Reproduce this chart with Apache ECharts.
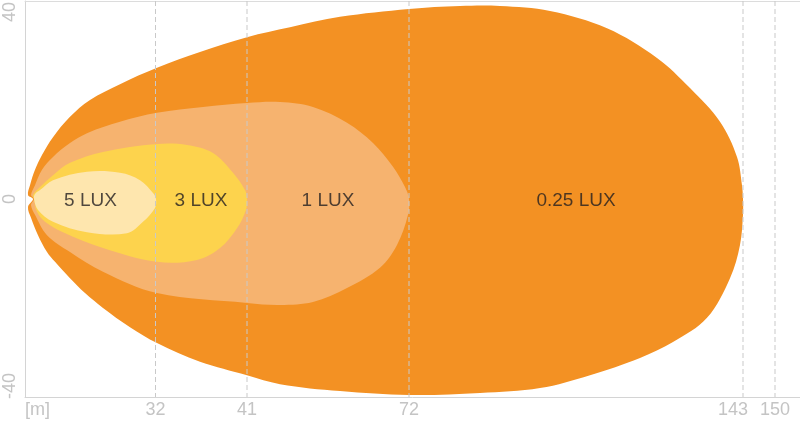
<!DOCTYPE html>
<html><head><meta charset="utf-8">
<script src="https://cdn.jsdelivr.net/npm/echarts@6/dist/echarts.min.js"></script>
<style>html,body{margin:0;padding:0;background:#fff}#c{width:800px;height:426px}</style>
</head><body><div id="c"></div>
<script>
// Tick labels of the distance axis and their places on the schematic axis
const tickLabels = ['[m]', '32', '41', '72', '143', '150'];
const tickPos = [0, 26.1, 44.4, 76.8, 143.6, 150];
const yTicks = [-40, 0, 40];

// Zone names and where they are written
const luxLabels = ['5 LUX', '3 LUX', '1 LUX', '0.25 LUX'];
const luxLabelX = [13.1, 35.2, 60.6, 110.2];

// Zone outlines [distance, lateral width]
const lux025 = [[0.6,0.8],[1.0,2.8],[2.0,5.9],[3.4,8.9],[5.6,12.5],[9.0,16.6],[13.0,20.0],[19.0,23.2],[26.4,26.5],[35.0,29.7],[44.4,32.7],[53.0,34.7],[63.0,36.8],[76.8,38.4],[87.0,39.0],[95.0,39.0],[105.0,38.0],[116.4,34.5],[126.4,28.5],[133.0,22.4],[139.0,15.6],[142.4,8.5],[143.4,2.8],[143.6,0],
  [143.6,-3.2],[143.0,-9.3],[141.0,-16.0],[136.4,-24.0],[129.6,-28.9],[123.0,-32.1],[113.0,-35.6],[103.0,-38.2],[91.0,-39.2],[76.8,-39.6],[63.0,-38.8],[51.0,-37.4],[44.4,-35.6],[35.0,-32.9],[26.4,-29.1],[21.0,-25.9],[15.6,-22.0],[12.0,-19.0],[9.0,-16.0],[6.0,-12.7],[4.4,-10.7],[2.6,-7.3],[1.2,-3.8],[0.6,-1.6],[1.6,0]];
const lux1 = [[1.2,0.8],[2.0,2.8],[3.4,5.9],[5.6,8.5],[9.0,11.3],[12.4,13.3],[19.0,15.6],[26.4,17.4],[35.6,18.6],[44.4,19.4],[51.0,19.6],[57.6,18.6],[64.4,15.4],[69.6,11.3],[73.6,6.5],[76.0,2.4],[76.8,0],
  [76.6,-3.2],[74.4,-9.3],[71.0,-13.9],[64.4,-18.0],[57.6,-20.8],[51.0,-21.4],[44.4,-21.0],[26.4,-19.0],[15.6,-14.7],[9.0,-10.7],[4.4,-7.3],[2.0,-3.2],[1.2,-1.2],[1.8,0]];
const lux3 = [[1.6,0.8],[3.0,2.4],[5.6,4.8],[9.0,7.3],[15.6,9.5],[26.4,11.1],[32.4,10.9],[37.6,9.3],[41.6,5.3],[44.0,1.8],[44.4,0],
  [44.2,-2.2],[42.4,-5.9],[39.0,-9.9],[34.4,-12.3],[26.4,-12.7],[15.6,-9.9],[7.6,-6.7],[4.0,-4.6],[2.4,-2.6],[1.8,0]];
const lux5 = [[2.0,1.0],[3.0,1.8],[5.6,3.8],[12.4,5.5],[19.0,5.3],[23.0,3.8],[25.6,1.2],[26.2,0],
  [26.0,-1.8],[23.6,-4.6],[20.4,-6.9],[12.4,-6.7],[5.6,-4.6],[2.6,-2.2],[1.8,0]];

const zones = [
  {name: '0.25 LUX', data: lux025, color: '#F39123'},
  {name: '1 LUX', data: lux1, color: '#F6B36F'},
  {name: '3 LUX', data: lux3, color: '#FDD34D'},
  {name: '5 LUX', data: lux5, color: '#FEE6AE'}
];

const FONT = 'Liberation Sans, Arial, sans-serif';
const LABEL_GREY = '#c4c4c4';
const chart = echarts.init(document.getElementById('c'));

const series = zones.map(z => ({
  type: 'custom',
  name: z.name,
  silent: true,
  data: z.data,
  renderItem: function (params, api) {
    if (params.dataIndex !== 0) return null;
    const pts = z.data.map(p => api.coord(p));
    return {
      type: 'polygon',
      shape: {points: pts, smooth: 0.35},
      style: {fill: z.color, stroke: null}
    };
  }
}));

series.push({
  type: 'custom',
  silent: true,
  z: 5,
  data: tickPos.slice(1),
  renderItem: function (params, api) {
    const x = api.value(0);
    const a = api.coord([x, 40]);
    const b = api.coord([x, -40]);
    return {
      type: 'line',
      shape: {x1: a[0], y1: a[1], x2: b[0], y2: b[1]},
      style: {stroke: '#c9c9c9', lineWidth: 1, lineDash: [5, 3]}
    };
  }
});

series.push({
  type: 'scatter',
  silent: true,
  z: 6,
  symbolSize: 0,
  data: luxLabels.map((t, i) => [luxLabelX[i], 0, t]),
  label: {
    show: true, position: 'inside', offset: [0, 2],
    formatter: p => p.data[2],
    color: '#231f20', fontSize: 19, fontFamily: FONT
  }
});

chart.setOption({
  animation: false,
  grid: {left: 25, right: 0, top: 1, bottom: 29, containLabel: false, outerBoundsMode: 'none'},
  xAxis: [{
    type: 'value', min: 0, max: 155,
    axisLine: {show: true, onZero: false, lineStyle: {color: '#d4d4d4', width: 1}},
    axisTick: {show: false},
    splitLine: {show: false},
    axisLabel: {
      customValues: tickPos,
      alignMinLabel: 'left',
      formatter: v => {
        const i = tickPos.findIndex(t => Math.abs(t - v) < 1e-6);
        if (i < 0) return '';
        return i === 4 ? '{s|' + tickLabels[i] + '}' : tickLabels[i];
      },
      rich: {s: {padding: [0, 20, 0, 0], color: LABEL_GREY, fontSize: 18, fontFamily: FONT}},
      color: LABEL_GREY, fontSize: 18, fontFamily: FONT, margin: 4
    }
  }, {
    type: 'value', min: 0, max: 155, position: 'top',
    axisLine: {show: true, onZero: false, lineStyle: {color: '#dcdcdc', width: 1}},
    axisTick: {show: false}, axisLabel: {show: false}, splitLine: {show: false}
  }],
  yAxis: {
    type: 'value', min: -40, max: 40,
    axisLine: {show: true, onZero: false, lineStyle: {color: '#d4d4d4', width: 1}},
    axisTick: {show: false},
    splitLine: {show: false},
    axisLabel: {
      customValues: yTicks,
      rotate: 90,
      margin: 6,
      formatter: v => v === 40 ? '{t|40}' : (v === -40 ? '{b|-40}' : String(v)),
      rich: {
        t: {padding: [0, 22, 0, 0], color: LABEL_GREY, fontSize: 18, fontFamily: FONT},
        b: {padding: [0, 0, 0, 22], color: LABEL_GREY, fontSize: 18, fontFamily: FONT}
      },
      color: LABEL_GREY, fontSize: 18, fontFamily: FONT
    }
  },
  series: series
});
</script>
</body></html>
